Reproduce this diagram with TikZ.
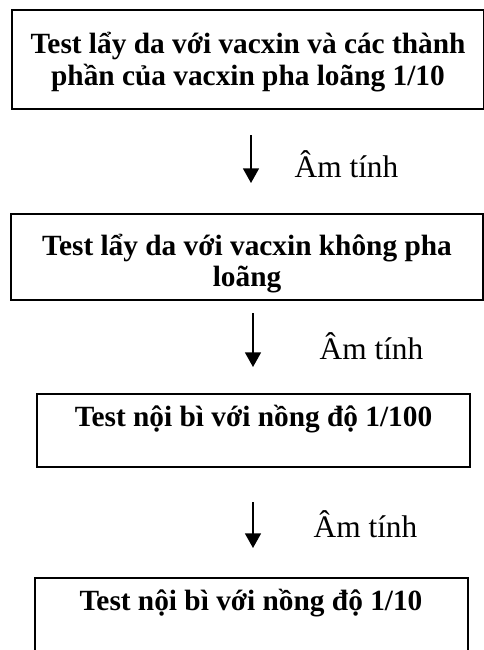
\documentclass[tikz,border=0pt]{standalone}
\usepackage{fontspec}
\setmainfont{Liberation Serif}
\usetikzlibrary{arrows.meta}

\begin{document}
\begin{tikzpicture}[x=0.75pt,y=-0.75pt,
		hop/.style={draw, line width=1.5pt, inner sep=0pt, align=center,
			font=\fontsize{22}{23.5}\selectfont\bfseries},
		hopnho/.style={hop, minimum width=324.75pt, minimum height=54.75pt,
			text height=20pt, text depth=26pt},
		negtxt/.style={anchor=base, inner sep=0pt, font=\fontsize{23.5}{28}\selectfont},
		mui/.style={line width=1.2pt, -{Triangle[width=12pt,length=11pt]}}]
			\useasboundingbox (0,0) rectangle (484,650);
			\node[hop, minimum width=354pt, minimum height=74.25pt, text height=43.5pt] (T1) at (248,59.5)
				{Test lẩy da với vacxin và các thành\\phần của vacxin pha loãng 1/10};
			\node[hop, minimum width=354pt, minimum height=64.5pt, text height=49.5pt] (T2) at (247,257)
				{Test lẩy da với vacxin không pha\\loãng};
			\node[hopnho] (T3) at (253.5,430.5) {Test nội bì với nồng độ 1/100};
			\node[hopnho] (T4) at (251,614.5) {Test nội bì với nồng độ 1/10};
			\coordinate (A1) at (251,135);
			\coordinate (B1) at (251,183);
			\coordinate (A2) at (253,313);
			\coordinate (B2) at (253,367);
			\coordinate (A3) at (253,502);
			\coordinate (B3) at (253,548);
			\draw[mui] (A1) -- (B1);
			\draw[mui] (A2) -- (B2);
			\draw[mui] (A3) -- (B3);
			\node[negtxt] (L1) at (346.5,177) {Âm tính};
			\node[negtxt] (L2) at (371.5,359) {Âm tính};
			\node[negtxt] (L3) at (365.5,537) {Âm tính};
		\end{tikzpicture}
\end{document}
